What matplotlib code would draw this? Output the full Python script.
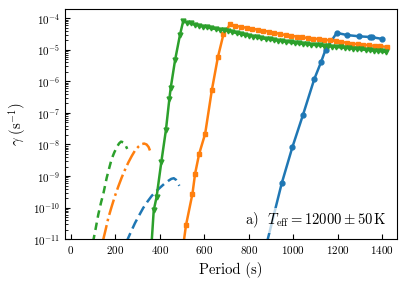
import numpy as np
import matplotlib
matplotlib.use("Agg")
import matplotlib.pyplot as plt

plt.rcParams['font.family'] = ['cmr10', 'DejaVu Serif']
plt.rcParams['mathtext.fontset'] = 'cm'
plt.rcParams['axes.formatter.use_mathtext'] = True

# ---- solid (growth-rate) curves: periods (s) and gamma (s^-1) ----
blue_P = [850, 948, 996, 1044, 1094, 1125, 1145, 1195, 1242, 1296, 1343, 1355, 1398]
blue_logg = [-12.0, -9.23, -8.08, -7.05, -5.93, -5.38, -4.99, -4.46, -4.53,
             -4.57, -4.59, -4.60, -4.65]

orange_P = [490, 518, 547, 559, 577, 604, 634, 661, 686,
            716, 740, 765, 790, 815, 840, 865, 890, 915, 940, 965, 990, 1015,
            1040, 1065, 1090, 1115, 1140, 1165, 1190, 1215, 1240, 1265, 1290,
            1315, 1340, 1365, 1390, 1422]
orange_logg_rise = [-12.0, -10.56, -9.56, -8.92, -8.30, -7.66, -6.28, -5.24, -4.51]
orange_flat_e5 = [6.4, 5.8, 5.4, 5.0, 4.7, 4.35, 4.05, 3.8, 3.5, 3.2, 2.95, 2.8,
                  2.65, 2.5, 2.4, 2.28, 2.2, 2.1, 2.0, 1.9, 1.8, 1.68, 1.58,
                  1.52, 1.46, 1.40, 1.35, 1.30, 1.25]

green_P = [360, 373, 386, 407, 428, 443, 449, 469, 491,
           506, 522, 539, 557, 575, 593, 612, 632, 651, 670, 689, 707, 726,
           745, 764, 782, 801, 820, 838, 857, 876, 894, 913, 932, 950, 969,
           988, 1006, 1025, 1044, 1062, 1081, 1100, 1118, 1137, 1156, 1175,
           1193, 1212, 1231, 1250, 1268, 1287, 1306, 1325, 1343, 1362, 1381,
           1399, 1415]
green_logg_rise = [-11.5, -10.09, -9.66, -8.56, -7.53, -6.57, -6.22, -5.32, -4.52]
green_flat_e5 = [8.5, 7.3, 6.9, 6.3, 5.9, 5.5, 5.2, 4.8, 4.6, 4.4, 4.2, 4.05,
                 3.7, 3.4, 3.2, 2.95, 2.85, 2.65, 2.5, 2.3, 2.25, 2.15, 2.05,
                 1.95, 1.88, 1.8, 1.72, 1.66, 1.6, 1.55, 1.5, 1.46, 1.42, 1.39,
                 1.34, 1.31, 1.27, 1.23, 1.2, 1.17, 1.12, 1.09, 1.06, 1.03, 1.0,
                 0.97, 0.94, 0.91, 0.89, 0.86]

# ---- dashed (damped / other) curves ----
gd_P = [100, 110, 124, 136, 147, 162, 173, 184, 196, 207, 217, 226, 236, 244, 254]
gd_logg = [-11.1, -10.75, -10.22, -9.85, -9.55, -9.05, -8.75, -8.46, -8.25,
           -8.09, -7.97, -7.91, -7.93, -7.99, -8.14]

od_P = [145, 157, 169, 184, 199, 214, 229, 244, 259, 274, 289, 304, 318, 330,
        341, 350, 356]
od_logg = [-11.05, -10.7, -10.33, -9.97, -9.63, -9.33, -9.05, -8.80, -8.57,
           -8.37, -8.19, -8.07, -7.99, -7.97, -8.0, -8.08, -8.19]

bd_P = [250, 270, 289, 308, 326, 345, 364, 383, 401, 420, 439, 452, 463, 473,
        481, 488]
bd_logg = [-11.1, -10.78, -10.49, -10.24, -10.01, -9.81, -9.63, -9.49, -9.37,
           -9.25, -9.15, -9.09, -9.07, -9.12, -9.22, -9.31]

xticks = [0, 200, 400, 600, 800, 1000, 1200, 1400]
label_text = r'a)  $T_{\rm eff} = 12000 \pm 50\,{\rm K}$'

blue_g = 10.0 ** np.array(blue_logg)
orange_g = np.concatenate([10.0 ** np.array(orange_logg_rise),
                           np.array(orange_flat_e5) * 1e-5])
green_g = np.concatenate([10.0 ** np.array(green_logg_rise),
                          np.array(green_flat_e5) * 1e-5])

fig = plt.figure(figsize=(4.07, 2.86), dpi=100)
ax = fig.add_axes([0.16, 0.164, 0.815, 0.805])

lw = 1.8
ax.plot(bd_P, 10.0 ** np.array(bd_logg), ls='--', color='C0', lw=lw,
        dashes=(4, 2))
ax.plot(od_P, 10.0 ** np.array(od_logg), ls='-.', color='C1', lw=lw)
ax.plot(gd_P, 10.0 ** np.array(gd_logg), ls='--', color='C2', lw=lw,
        dashes=(3, 2))

ax.plot(blue_P, blue_g, '-o', color='C0', lw=lw, ms=3.5)
ax.plot(orange_P, orange_g, '-s', color='C1', lw=lw, ms=3.5)
ax.plot(green_P, green_g, '-v', color='C2', lw=lw, ms=3.5)

ax.set_yscale('log')
ax.set_ylim(1e-11, 2e-4)
ax.set_xlim(-25, 1465)
ax.set_xticks(xticks)
ax.tick_params(which='both', direction='in', labelsize=8)
ax.tick_params(which='major', length=3.5)
ax.tick_params(which='minor', length=2)

ax.set_xlabel('Period (s)', fontsize=10.5)
ax.set_ylabel(r'$\gamma\ (\mathrm{s}^{-1})$', fontsize=10.5)

ax.text(0.97, 0.08, label_text, transform=ax.transAxes, ha='right',
        va='center', fontsize=10.5,
        bbox=dict(facecolor='white', alpha=0.7, edgecolor='none', pad=2))

fig.savefig('out.png', dpi=100)
